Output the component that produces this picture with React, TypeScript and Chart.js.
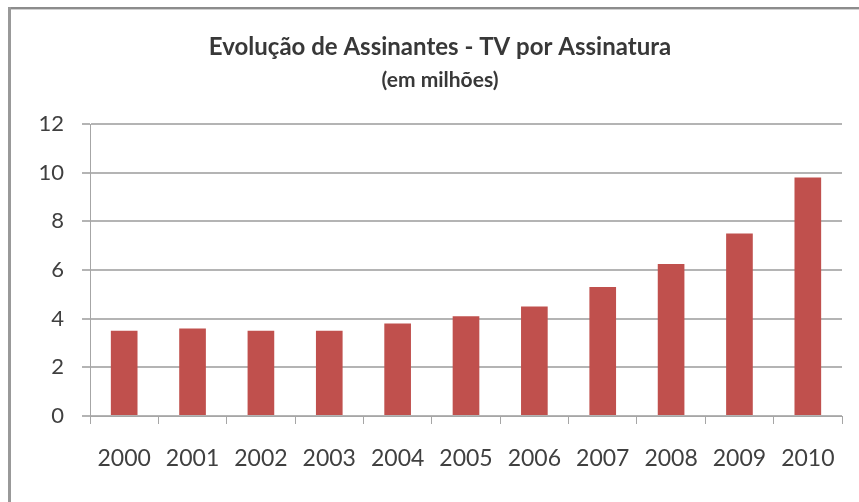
import React, { useEffect, useRef } from "react";
import { Chart, registerables } from "chart.js";

Chart.register(...registerables);

const years = ["2000", "2001", "2002", "2003", "2004", "2005", "2006", "2007", "2008", "2009", "2010"];
const subscribers = [3.5, 3.6, 3.5, 3.5, 3.8, 4.1, 4.5, 5.3, 6.25, 7.5, 9.8];
const titleText = "Evolução de Assinantes - TV por Assinatura";
const subtitleText = "(em milhões)";

export default function App() {
  const ref = useRef<HTMLCanvasElement | null>(null);

  useEffect(() => {
    if (!ref.current) return;
    const chart = new Chart(ref.current, {
      type: "bar",
      data: {
        labels: years,
        datasets: [
          {
            data: subscribers,
            backgroundColor: "#c0504d",
            borderWidth: 0,
            barPercentage: 0.39,
            categoryPercentage: 1,
          },
        ],
      },
      options: {
        responsive: false,
        animation: false,
        layout: { padding: { left: 38, right: 17, top: 20, bottom: 0 } },
        plugins: {
          legend: { display: false },
          tooltip: { enabled: false },
          title: {
            display: true,
            text: titleText,
            color: "#383838",
            font: { family: "Lato", size: 24, weight: "bold" },
            padding: { top: 13, bottom: 4 },
          },
          subtitle: {
            display: true,
            text: subtitleText,
            color: "#383838",
            font: { family: "Lato", size: 21, weight: "bold" },
            padding: { top: 2, bottom: 31 },
          },
        },
        scales: {
          x: {
            afterFit: (s: any) => {
              s.height = 86;
            },
            grid: {
              display: true,
              drawOnChartArea: false,
              drawTicks: true,
              tickLength: 8,
              color: "#a6a6a6",
              lineWidth: 1,
            },
            border: { display: true, color: "#a6a6a6", width: 1 },
            ticks: {
              color: "#404040",
              font: { family: "Lato", size: 23 },
              padding: 21,
              maxRotation: 0,
            },
          },
          y: {
            min: 0,
            max: 12,
            afterFit: (s: any) => {
              s.width = 52;
            },
            ticks: {
              stepSize: 2,
              color: "#404040",
              font: { family: "Lato", size: 22 },
              padding: 18,
            },
            grid: {
              color: "#b4b4b4",
              lineWidth: 2,
              tickLength: 8,
            },
            border: { display: true, color: "#a6a6a6", width: 1 },
          },
        },
      },
    });
    return () => chart.destroy();
  }, []);

  return (
    <div style={{ position: "fixed", left: 0, top: 0, width: 859, height: 502, background: "#ffffff" }}>
      <canvas ref={ref} width={859} height={502} style={{ display: "block", position: "absolute", left: 0, top: 0 }} />
      <div style={{ position: "absolute", left: 8, top: 7, width: 851, height: 2, background: "#8c8c8c" }} />
      <div style={{ position: "absolute", left: 8, top: 9, width: 851, height: 1, background: "#d0d0d0" }} />
      <div style={{ position: "absolute", left: 8, top: 7, width: 3, height: 495, background: "#999999" }} />
    </div>
  );
}
